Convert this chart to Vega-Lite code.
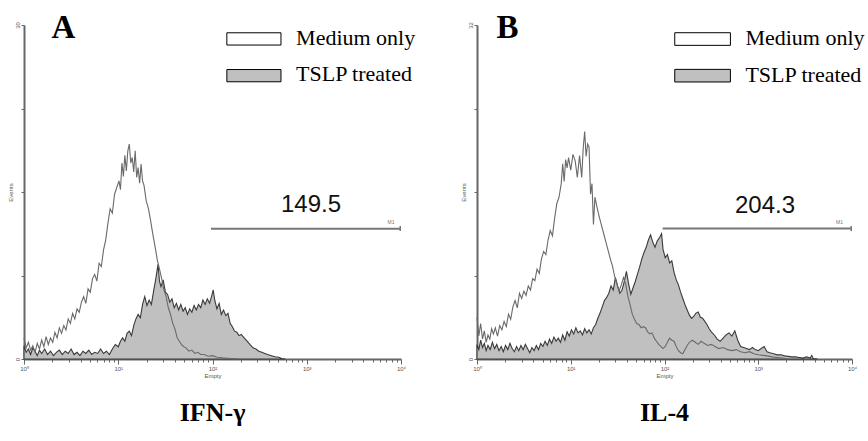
{
  "$schema": "https://vega.github.io/schema/vega-lite/v6.json",
  "background": "white",
  "padding": {"left": 7, "top": 11, "right": 0, "bottom": 0},
  "bounds": "flush",
  "spacing": 76,
  "config": {
    "view": {"stroke": null},
    "axis": {"grid": false, "labelFont": "Liberation Sans", "titleFont": "Liberation Sans", "labelFontSize": 6, "titleFontSize": 6, "titleFontWeight": "normal", "labelColor": "#555", "titleColor": "#555", "tickColor": "#666", "domainColor": "#666", "domainWidth": 2}
  },
  "datasets": {
    "aMedium": [
      {"channel":0,"events":1.9},{"channel":6,"events":1.0},{"channel":12,"events":1.5},{"channel":18,"events":0.8},{"channel":24,"events":1.2},{"channel":30,"events":0.6},{"channel":36,"events":1.4},{"channel":42,"events":0.9},{"channel":48,"events":1.7},{"channel":54,"events":1.1},{"channel":60,"events":2.0},{"channel":66,"events":1.3},{"channel":72,"events":1.9},{"channel":78,"events":1.5},{"channel":84,"events":2.4},{"channel":90,"events":1.9},{"channel":96,"events":2.8},{"channel":102,"events":2.3},{"channel":108,"events":3.0},{"channel":114,"events":2.6},{"channel":120,"events":3.6},{"channel":126,"events":3.2},{"channel":132,"events":4.1},{"channel":138,"events":3.6},{"channel":144,"events":4.5},{"channel":150,"events":4.2},{"channel":156,"events":5.1},{"channel":162,"events":5.6},{"channel":168,"events":5.0},{"channel":174,"events":6.3},{"channel":180,"events":6.0},{"channel":186,"events":7.2},{"channel":192,"events":7.6},{"channel":198,"events":7.0},{"channel":204,"events":8.6},{"channel":210,"events":8.3},{"channel":216,"events":9.8},{"channel":222,"events":10.7},{"channel":228,"events":12.2},{"channel":234,"events":13.5},{"channel":240,"events":13.1},{"channel":246,"events":14.8},{"channel":252,"events":15.4},{"channel":258,"events":16.0},{"channel":262,"events":15.2},{"channel":266,"events":17.6},{"channel":270,"events":16.4},{"channel":274,"events":18.3},{"channel":278,"events":16.9},{"channel":282,"events":18.7},{"channel":286,"events":19.3},{"channel":290,"events":17.6},{"channel":294,"events":18.1},{"channel":298,"events":16.8},{"channel":302,"events":18.7},{"channel":306,"events":16.3},{"channel":310,"events":17.2},{"channel":314,"events":15.8},{"channel":318,"events":17.5},{"channel":322,"events":16.0},{"channel":326,"events":15.6},{"channel":332,"events":14.2},{"channel":338,"events":13.5},{"channel":344,"events":12.4},{"channel":350,"events":11.2},{"channel":356,"events":10.1},{"channel":362,"events":8.9},{"channel":368,"events":8.1},{"channel":374,"events":7.2},{"channel":380,"events":6.2},{"channel":386,"events":5.6},{"channel":392,"events":4.6},{"channel":398,"events":4.0},{"channel":404,"events":3.2},{"channel":410,"events":2.7},{"channel":416,"events":1.9},{"channel":422,"events":1.6},{"channel":428,"events":1.3},{"channel":434,"events":1.1},{"channel":440,"events":1.0},{"channel":448,"events":0.7},{"channel":456,"events":0.8},{"channel":464,"events":0.5},{"channel":472,"events":0.6},{"channel":480,"events":0.4},{"channel":490,"events":0.4},{"channel":500,"events":0.25},{"channel":512,"events":0.3},{"channel":525,"events":0.15},{"channel":540,"events":0.1},{"channel":560,"events":0.05},{"channel":580,"events":0}
    ],
    "aTslp": [
      {"channel":0,"events":1.2},{"channel":6,"events":0.6},{"channel":12,"events":0.9},{"channel":18,"events":0.4},{"channel":24,"events":1.0},{"channel":30,"events":0.7},{"channel":36,"events":0.3},{"channel":42,"events":0.8},{"channel":48,"events":0.5},{"channel":56,"events":0.9},{"channel":64,"events":0.4},{"channel":72,"events":0.7},{"channel":80,"events":0.3},{"channel":88,"events":0.6},{"channel":96,"events":0.8},{"channel":104,"events":0.4},{"channel":112,"events":0.7},{"channel":120,"events":0.5},{"channel":128,"events":0.9},{"channel":136,"events":0.4},{"channel":144,"events":0.6},{"channel":152,"events":0.3},{"channel":160,"events":0.7},{"channel":168,"events":0.5},{"channel":176,"events":0.8},{"channel":184,"events":0.4},{"channel":192,"events":0.6},{"channel":200,"events":0.5},{"channel":208,"events":0.9},{"channel":216,"events":0.5},{"channel":224,"events":0.7},{"channel":232,"events":0.4},{"channel":240,"events":0.9},{"channel":248,"events":1.3},{"channel":256,"events":1.1},{"channel":262,"events":1.6},{"channel":268,"events":1.9},{"channel":274,"events":1.6},{"channel":280,"events":2.3},{"channel":286,"events":2.5},{"channel":292,"events":2.1},{"channel":298,"events":3.0},{"channel":304,"events":3.6},{"channel":310,"events":4.0},{"channel":316,"events":3.7},{"channel":322,"events":4.9},{"channel":328,"events":5.6},{"channel":334,"events":4.8},{"channel":340,"events":5.3},{"channel":346,"events":4.9},{"channel":352,"events":6.1},{"channel":358,"events":7.2},{"channel":364,"events":8.5},{"channel":368,"events":7.0},{"channel":372,"events":6.5},{"channel":378,"events":7.1},{"channel":384,"events":6.0},{"channel":390,"events":5.8},{"channel":396,"events":5.1},{"channel":402,"events":5.4},{"channel":408,"events":4.6},{"channel":414,"events":5.0},{"channel":420,"events":4.4},{"channel":426,"events":4.9},{"channel":432,"events":4.3},{"channel":438,"events":4.6},{"channel":444,"events":4.0},{"channel":450,"events":4.5},{"channel":456,"events":4.2},{"channel":462,"events":4.8},{"channel":468,"events":4.4},{"channel":474,"events":4.9},{"channel":480,"events":4.6},{"channel":486,"events":5.3},{"channel":492,"events":4.9},{"channel":498,"events":5.4},{"channel":504,"events":5.0},{"channel":510,"events":5.7},{"channel":514,"events":6.2},{"channel":518,"events":5.3},{"channel":524,"events":4.5},{"channel":530,"events":5.0},{"channel":536,"events":4.0},{"channel":542,"events":4.4},{"channel":548,"events":3.9},{"channel":554,"events":4.1},{"channel":560,"events":3.2},{"channel":566,"events":2.9},{"channel":572,"events":2.5},{"channel":578,"events":2.4},{"channel":584,"events":2.1},{"channel":590,"events":2.2},{"channel":598,"events":1.9},{"channel":606,"events":1.6},{"channel":614,"events":1.3},{"channel":622,"events":1.0},{"channel":630,"events":0.9},{"channel":638,"events":0.7},{"channel":646,"events":0.6},{"channel":654,"events":0.5},{"channel":662,"events":0.4},{"channel":672,"events":0.3},{"channel":682,"events":0.2},{"channel":692,"events":0.15},{"channel":700,"events":0.05},{"channel":710,"events":0}
    ],
    "bMedium": [
      {"channel":0,"events":4.0},{"channel":5,"events":2.2},{"channel":10,"events":3.4},{"channel":15,"events":1.9},{"channel":20,"events":2.7},{"channel":25,"events":1.6},{"channel":30,"events":2.3},{"channel":35,"events":1.9},{"channel":40,"events":2.9},{"channel":45,"events":2.4},{"channel":50,"events":3.0},{"channel":56,"events":2.2},{"channel":62,"events":3.2},{"channel":68,"events":2.8},{"channel":74,"events":3.6},{"channel":80,"events":3.1},{"channel":86,"events":4.3},{"channel":92,"events":3.8},{"channel":98,"events":5.0},{"channel":104,"events":5.6},{"channel":110,"events":4.9},{"channel":116,"events":6.3},{"channel":122,"events":5.8},{"channel":128,"events":6.5},{"channel":134,"events":6.1},{"channel":140,"events":7.0},{"channel":146,"events":6.6},{"channel":152,"events":7.7},{"channel":158,"events":7.5},{"channel":164,"events":8.6},{"channel":170,"events":8.2},{"channel":176,"events":9.6},{"channel":182,"events":10.3},{"channel":188,"events":10.0},{"channel":194,"events":11.4},{"channel":200,"events":12.3},{"channel":206,"events":11.8},{"channel":212,"events":13.5},{"channel":218,"events":14.9},{"channel":224,"events":15.5},{"channel":230,"events":16.8},{"channel":234,"events":18.7},{"channel":238,"events":17.0},{"channel":242,"events":19.1},{"channel":246,"events":18.3},{"channel":250,"events":19.3},{"channel":256,"events":18.1},{"channel":262,"events":19.6},{"channel":268,"events":19.0},{"channel":274,"events":17.4},{"channel":280,"events":19.5},{"channel":286,"events":17.4},{"channel":290,"events":20.2},{"channel":294,"events":21.8},{"channel":298,"events":19.4},{"channel":302,"events":20.6},{"channel":306,"events":20.3},{"channel":310,"events":15.8},{"channel":314,"events":16.8},{"channel":318,"events":12.9},{"channel":322,"events":15.5},{"channel":328,"events":14.5},{"channel":334,"events":13.6},{"channel":340,"events":12.8},{"channel":346,"events":12.0},{"channel":352,"events":11.2},{"channel":358,"events":10.4},{"channel":364,"events":9.6},{"channel":370,"events":8.9},{"channel":376,"events":7.9},{"channel":382,"events":7.2},{"channel":388,"events":6.5},{"channel":394,"events":7.1},{"channel":400,"events":7.8},{"channel":406,"events":7.2},{"channel":412,"events":6.0},{"channel":418,"events":5.2},{"channel":424,"events":4.3},{"channel":430,"events":3.8},{"channel":436,"events":3.4},{"channel":442,"events":3.3},{"channel":448,"events":3.0},{"channel":454,"events":3.1},{"channel":460,"events":3.0},{"channel":466,"events":2.6},{"channel":472,"events":2.4},{"channel":478,"events":2.5},{"channel":484,"events":2.0},{"channel":490,"events":1.7},{"channel":496,"events":1.4},{"channel":502,"events":1.2},{"channel":508,"events":1.0},{"channel":514,"events":1.2},{"channel":520,"events":1.6},{"channel":526,"events":2.0},{"channel":532,"events":1.8},{"channel":538,"events":1.7},{"channel":544,"events":1.2},{"channel":550,"events":0.8},{"channel":556,"events":0.6},{"channel":562,"events":0.5},{"channel":568,"events":0.9},{"channel":574,"events":1.3},{"channel":580,"events":1.6},{"channel":588,"events":1.8},{"channel":596,"events":1.6},{"channel":604,"events":1.4},{"channel":612,"events":1.7},{"channel":620,"events":1.5},{"channel":630,"events":1.3},{"channel":640,"events":1.4},{"channel":650,"events":1.2},{"channel":660,"events":1.0},{"channel":672,"events":1.1},{"channel":684,"events":0.9},{"channel":696,"events":0.8},{"channel":708,"events":0.9},{"channel":720,"events":0.7},{"channel":732,"events":0.6},{"channel":744,"events":0.7},{"channel":756,"events":0.5},{"channel":768,"events":0.4},{"channel":780,"events":0.35},{"channel":792,"events":0.3},{"channel":806,"events":0.2},{"channel":820,"events":0.15},{"channel":836,"events":0.1},{"channel":850,"events":0}
    ],
    "bTslp": [
      {"channel":0,"events":1.4},{"channel":5,"events":0.9},{"channel":10,"events":1.8},{"channel":15,"events":1.1},{"channel":20,"events":1.5},{"channel":25,"events":0.8},{"channel":30,"events":1.3},{"channel":36,"events":0.9},{"channel":42,"events":1.6},{"channel":48,"events":1.0},{"channel":54,"events":1.4},{"channel":60,"events":0.8},{"channel":66,"events":1.2},{"channel":72,"events":0.7},{"channel":78,"events":1.3},{"channel":84,"events":0.9},{"channel":90,"events":1.5},{"channel":96,"events":1.0},{"channel":102,"events":0.7},{"channel":108,"events":1.2},{"channel":114,"events":0.8},{"channel":120,"events":1.3},{"channel":126,"events":0.9},{"channel":132,"events":1.4},{"channel":138,"events":1.0},{"channel":144,"events":0.6},{"channel":150,"events":1.1},{"channel":156,"events":0.8},{"channel":162,"events":1.3},{"channel":168,"events":0.9},{"channel":174,"events":1.5},{"channel":180,"events":1.2},{"channel":186,"events":1.7},{"channel":192,"events":1.3},{"channel":198,"events":1.9},{"channel":204,"events":1.5},{"channel":210,"events":2.1},{"channel":216,"events":1.7},{"channel":222,"events":2.0},{"channel":228,"events":1.6},{"channel":234,"events":2.3},{"channel":240,"events":1.8},{"channel":246,"events":2.6},{"channel":252,"events":2.2},{"channel":258,"events":2.8},{"channel":264,"events":2.4},{"channel":270,"events":3.0},{"channel":276,"events":2.5},{"channel":282,"events":2.7},{"channel":288,"events":2.3},{"channel":294,"events":2.9},{"channel":300,"events":2.5},{"channel":306,"events":2.8},{"channel":312,"events":2.4},{"channel":318,"events":3.0},{"channel":324,"events":3.3},{"channel":330,"events":3.9},{"channel":336,"events":4.4},{"channel":342,"events":5.0},{"channel":348,"events":5.6},{"channel":354,"events":5.9},{"channel":360,"events":6.3},{"channel":366,"events":7.0},{"channel":372,"events":6.6},{"channel":378,"events":7.8},{"channel":384,"events":7.0},{"channel":390,"events":6.3},{"channel":396,"events":6.6},{"channel":402,"events":7.4},{"channel":408,"events":8.4},{"channel":414,"events":7.2},{"channel":420,"events":6.2},{"channel":426,"events":6.8},{"channel":432,"events":7.4},{"channel":438,"events":8.1},{"channel":444,"events":8.8},{"channel":450,"events":9.6},{"channel":456,"events":10.2},{"channel":462,"events":10.7},{"channel":468,"events":11.4},{"channel":474,"events":11.9},{"channel":480,"events":11.2},{"channel":486,"events":10.7},{"channel":492,"events":11.3},{"channel":498,"events":11.6},{"channel":504,"events":12.0},{"channel":508,"events":10.5},{"channel":514,"events":9.7},{"channel":520,"events":10.0},{"channel":526,"events":9.2},{"channel":532,"events":9.4},{"channel":538,"events":8.3},{"channel":544,"events":7.6},{"channel":550,"events":7.1},{"channel":556,"events":6.4},{"channel":562,"events":5.8},{"channel":568,"events":5.2},{"channel":574,"events":4.7},{"channel":580,"events":4.2},{"channel":586,"events":3.9},{"channel":592,"events":4.1},{"channel":598,"events":4.4},{"channel":604,"events":4.5},{"channel":610,"events":4.0},{"channel":616,"events":3.9},{"channel":622,"events":3.6},{"channel":628,"events":3.3},{"channel":634,"events":2.9},{"channel":640,"events":2.6},{"channel":648,"events":2.3},{"channel":656,"events":1.9},{"channel":664,"events":1.7},{"channel":672,"events":2.0},{"channel":680,"events":2.3},{"channel":688,"events":2.5},{"channel":696,"events":2.2},{"channel":704,"events":2.7},{"channel":712,"events":1.8},{"channel":720,"events":1.2},{"channel":728,"events":1.1},{"channel":736,"events":1.0},{"channel":744,"events":0.9},{"channel":752,"events":1.1},{"channel":760,"events":0.9},{"channel":768,"events":0.8},{"channel":776,"events":1.0},{"channel":784,"events":1.2},{"channel":792,"events":0.7},{"channel":800,"events":0.6},{"channel":810,"events":0.5},{"channel":820,"events":0.4},{"channel":830,"events":0.4},{"channel":840,"events":0.3},{"channel":850,"events":0.25},{"channel":860,"events":0.2},{"channel":870,"events":0.2},{"channel":880,"events":0.15},{"channel":890,"events":0.1},{"channel":900,"events":0.2},{"channel":910,"events":0.1},{"channel":914,"events":0.35},{"channel":918,"events":0.05},{"channel":930,"events":0}
    ]
  },
  "hconcat": [
    {
      "width": 377,
      "height": 334,
      "title": {"text": "IFN-γ", "orient": "bottom", "anchor": "middle", "font": "Liberation Serif", "fontSize": 26, "fontWeight": "bold", "color": "black", "offset": 22},
      "resolve": {"axis": {"x": "independent", "y": "independent"}},
      "layer": [
        {
          "data": {"name": "aTslp"},
          "mark": {"type": "area", "fill": "#c0c0c0", "stroke": "#3a3a3a", "strokeWidth": 1.1},
          "encoding": {
            "x": {"field": "channel", "type": "quantitative", "scale": {"domain": [0, 1024], "nice": false, "zero": false},
              "axis": {"orient": "bottom", "title": "Empty", "values": [0,77,122,154,179,199,216,231,244,256,333,378,410,435,455,472,487,500,512,589,634,666,691,711,728,743,756,768,845,890,922,947,967,984,999,1012,1024],
                "labelExpr": "datum.value == 0 ? '10⁰' : datum.value == 256 ? '10¹' : datum.value == 512 ? '10²' : datum.value == 768 ? '10³' : datum.value == 1024 ? '10⁴' : ''",
                "labelOverlap": false, "labelFlush": false, "labelBound": false, "tickSize": {"condition": {"test": "datum.value % 256 == 0", "value": 5}, "value": 3}, "tickWidth": 1, "labelPadding": 1, "titlePadding": 1}},
            "y": {"field": "events", "type": "quantitative", "scale": {"domain": [0, 30], "nice": false},
              "axis": {"orient": "left", "title": "Events", "values": [0, 7.5, 15, 22.5, 30], "labelExpr": "datum.value == 0 || datum.value == 30 ? datum.label : ''", "labelAngle": 270, "tickSize": 3, "labelPadding": 1, "titlePadding": 1, "labelOverlap": false, "labelFlush": false}}
          }
        },
        {
          "data": {"name": "aMedium"},
          "mark": {"type": "line", "stroke": "#6a6a6a", "strokeWidth": 1.1},
          "encoding": {"x": {"field": "channel", "type": "quantitative", "axis": null}, "y": {"field": "events", "type": "quantitative", "axis": null}}
        },
        {"data": {"values": [{}]}, "mark": {"type": "text", "text": "A", "font": "Liberation Serif", "fontSize": 33, "fontWeight": "bold", "align": "center", "baseline": "alphabetic", "color": "black"}, "encoding": {"x": {"datum": 107, "axis": null}, "y": {"datum": 28.8, "axis": null}}},
        {"data": {"values": [{}]}, "mark": {"type": "rect", "fill": "white", "stroke": "black", "strokeWidth": 1}, "encoding": {"x": {"datum": 551, "axis": null}, "x2": {"datum": 698}, "y": {"datum": 29.3, "axis": null}, "y2": {"datum": 28.2}}},
        {"data": {"values": [{}]}, "mark": {"type": "rect", "fill": "#c0c0c0", "stroke": "black", "strokeWidth": 1}, "encoding": {"x": {"datum": 551, "axis": null}, "x2": {"datum": 698}, "y": {"datum": 26.0, "axis": null}, "y2": {"datum": 24.9}}},
        {"data": {"values": [{}]}, "mark": {"type": "text", "text": "Medium only", "font": "Liberation Serif", "fontSize": 22, "align": "left", "baseline": "alphabetic", "color": "black"}, "encoding": {"x": {"datum": 739, "axis": null}, "y": {"datum": 28.2, "axis": null}}},
        {"data": {"values": [{}]}, "mark": {"type": "text", "text": "TSLP treated", "font": "Liberation Serif", "fontSize": 22, "align": "left", "baseline": "alphabetic", "color": "black"}, "encoding": {"x": {"datum": 739, "axis": null}, "y": {"datum": 24.97, "axis": null}}},
        {"data": {"values": [{}]}, "mark": {"type": "text", "text": "149.5", "font": "Liberation Sans", "fontSize": 24, "align": "center", "baseline": "alphabetic", "color": "#111"}, "encoding": {"x": {"datum": 779.5, "axis": null}, "y": {"datum": 13.2, "axis": null}}},
        {"data": {"values": [{}]}, "mark": {"type": "rule", "color": "#777", "strokeWidth": 2}, "encoding": {"x": {"datum": 508, "axis": null}, "x2": {"datum": 1022}, "y": {"datum": 11.7, "axis": null}}},
        {"data": {"values": [{}]}, "mark": {"type": "rule", "color": "#777", "strokeWidth": 1.5}, "encoding": {"x": {"datum": 1022, "axis": null}, "y": {"datum": 11.5, "axis": null}, "y2": {"datum": 11.95}}},
        {"data": {"values": [{}]}, "mark": {"type": "text", "text": "M1", "font": "Liberation Sans", "fontSize": 5, "align": "center", "baseline": "alphabetic", "color": "#777"}, "encoding": {"x": {"datum": 997, "axis": null}, "y": {"datum": 12.1, "axis": null}}}
      ]
    },
    {
      "width": 375,
      "height": 334,
      "title": {"text": "IL-4", "orient": "bottom", "anchor": "middle", "font": "Liberation Serif", "fontSize": 26, "fontWeight": "bold", "color": "black", "offset": 22},
      "resolve": {"axis": {"x": "independent", "y": "independent"}},
      "layer": [
        {
          "data": {"name": "bTslp"},
          "mark": {"type": "area", "fill": "#c0c0c0", "stroke": "#3a3a3a", "strokeWidth": 1.1},
          "encoding": {
            "x": {"field": "channel", "type": "quantitative", "scale": {"domain": [0, 1024], "nice": false, "zero": false},
              "axis": {"orient": "bottom", "title": "Empty", "values": [0,77,122,154,179,199,216,231,244,256,333,378,410,435,455,472,487,500,512,589,634,666,691,711,728,743,756,768,845,890,922,947,967,984,999,1012,1024],
                "labelExpr": "datum.value == 0 ? '10⁰' : datum.value == 256 ? '10¹' : datum.value == 512 ? '10²' : datum.value == 768 ? '10³' : datum.value == 1024 ? '10⁴' : ''",
                "labelOverlap": false, "labelFlush": false, "labelBound": false, "tickSize": {"condition": {"test": "datum.value % 256 == 0", "value": 5}, "value": 3}, "tickWidth": 1, "labelPadding": 1, "titlePadding": 1}},
            "y": {"field": "events", "type": "quantitative", "scale": {"domain": [0, 32], "nice": false},
              "axis": {"orient": "left", "title": "Events", "values": [0, 8, 16, 24, 32], "labelExpr": "datum.value == 0 || datum.value == 32 ? datum.label : ''", "labelAngle": 270, "tickSize": 3, "labelPadding": 1, "titlePadding": 1, "labelOverlap": false, "labelFlush": false}}
          }
        },
        {
          "data": {"name": "bMedium"},
          "mark": {"type": "line", "stroke": "#6a6a6a", "strokeWidth": 1.1},
          "encoding": {"x": {"field": "channel", "type": "quantitative", "axis": null}, "y": {"field": "events", "type": "quantitative", "axis": null}}
        },
        {"data": {"values": [{}]}, "mark": {"type": "text", "text": "B", "font": "Liberation Serif", "fontSize": 33, "fontWeight": "bold", "align": "center", "baseline": "alphabetic", "color": "black"}, "encoding": {"x": {"datum": 83, "axis": null}, "y": {"datum": 30.8, "axis": null}}},
        {"data": {"values": [{}]}, "mark": {"type": "rect", "fill": "white", "stroke": "black", "strokeWidth": 1}, "encoding": {"x": {"datum": 540, "axis": null}, "x2": {"datum": 692}, "y": {"datum": 31.26, "axis": null}, "y2": {"datum": 30.05}}},
        {"data": {"values": [{}]}, "mark": {"type": "rect", "fill": "#c0c0c0", "stroke": "black", "strokeWidth": 1}, "encoding": {"x": {"datum": 540, "axis": null}, "x2": {"datum": 692}, "y": {"datum": 27.75, "axis": null}, "y2": {"datum": 26.54}}},
        {"data": {"values": [{}]}, "mark": {"type": "text", "text": "Medium only", "font": "Liberation Serif", "fontSize": 22, "align": "left", "baseline": "alphabetic", "color": "black"}, "encoding": {"x": {"datum": 733, "axis": null}, "y": {"datum": 30.08, "axis": null}}},
        {"data": {"values": [{}]}, "mark": {"type": "text", "text": "TSLP treated", "font": "Liberation Serif", "fontSize": 22, "align": "left", "baseline": "alphabetic", "color": "black"}, "encoding": {"x": {"datum": 733, "axis": null}, "y": {"datum": 26.58, "axis": null}}},
        {"data": {"values": [{}]}, "mark": {"type": "text", "text": "204.3", "font": "Liberation Sans", "fontSize": 24, "align": "center", "baseline": "alphabetic", "color": "#111"}, "encoding": {"x": {"datum": 786.5, "axis": null}, "y": {"datum": 14.0, "axis": null}}},
        {"data": {"values": [{}]}, "mark": {"type": "rule", "color": "#777", "strokeWidth": 2}, "encoding": {"x": {"datum": 507, "axis": null}, "x2": {"datum": 1022}, "y": {"datum": 12.5, "axis": null}}},
        {"data": {"values": [{}]}, "mark": {"type": "rule", "color": "#777", "strokeWidth": 1.5}, "encoding": {"x": {"datum": 1022, "axis": null}, "y": {"datum": 12.25, "axis": null}, "y2": {"datum": 12.75}}},
        {"data": {"values": [{}]}, "mark": {"type": "text", "text": "M1", "font": "Liberation Sans", "fontSize": 5, "align": "center", "baseline": "alphabetic", "color": "#777"}, "encoding": {"x": {"datum": 990, "axis": null}, "y": {"datum": 12.9, "axis": null}}}
      ]
    }
  ]
}
